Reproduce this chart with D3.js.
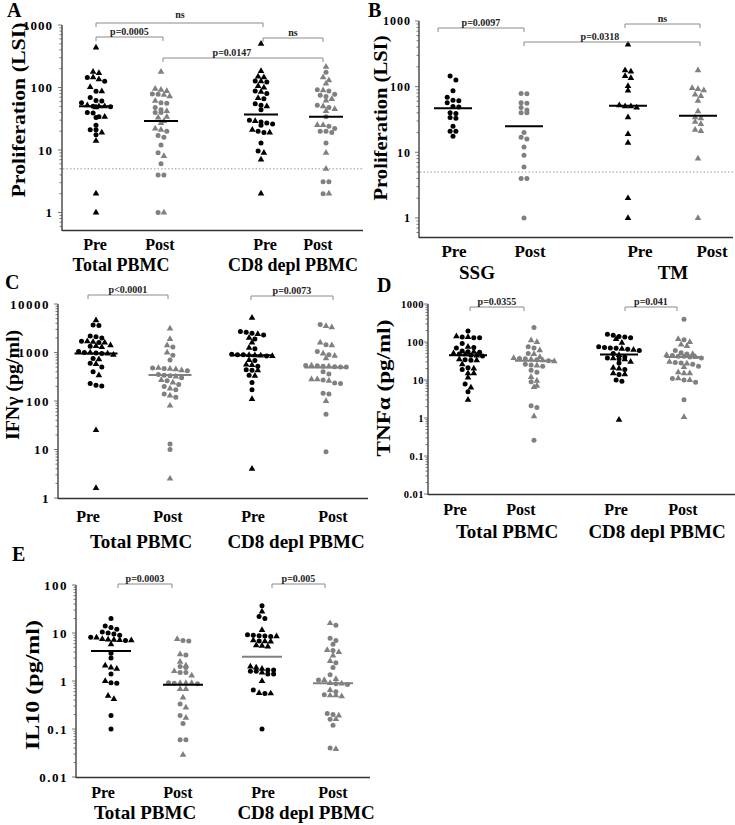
<!DOCTYPE html>
<html>
<head>
<meta charset="utf-8">
<script src="https://cdn.jsdelivr.net/npm/d3@7.9.0/dist/d3.min.js"></script>
<style>
  body { margin: 0; background: #fff; }
  svg { display: block; }
  text { font-family: "Liberation Serif", "Times New Roman", serif; font-weight: bold; }
</style>
</head>
<body>
<script>
// ---- labels ----
const timepoints = ['Pre', 'Post', 'Pre', 'Post'];
const cellGroups = ['Total PBMC', 'CD8 depl PBMC'];
const treatGroups = ['SSG', 'TM'];

// ---- proliferation (LSI), total PBMC : circles = SSG, triangles = TM ----
const lsiSsgPre  = [145, 126, 87, 69, 62, 61, 57, 50, 49, 40, 39, 34, 33, 25, 21, 21, 17.5];
const lsiSsgPost = [79, 78, 57, 56, 48, 44, 40, 40, 20, 17, 16, 12, 9, 6, 4, 4, 1];
const lsiTmPre   = [437, 178, 170, 145, 135, 102, 87, 52, 50, 50, 48, 34, 19, 14, 2, 1];
const lsiTmPost  = [178, 95, 92, 88, 76, 72, 61, 42, 34, 33, 29, 27, 22, 21, 8, 1];
// ---- proliferation (LSI), CD8 depleted PBMC ----
const lsiCd8PreC  = [127, 122, 88, 80, 66, 55, 52, 44, 30, 28, 27, 26, 25, 20, 19, 13, 9.6];
const lsiCd8PreT  = [500, 183, 150, 145, 125, 105, 100, 85, 68, 50, 29, 21, 19, 9, 7, 2];
const lsiCd8PostC = [175, 92, 88, 78, 75, 72, 52, 48, 34, 24, 22, 20, 20, 19, 13, 3.1, 3.1, 2];
const lsiCd8PostT = [215, 145, 130, 115, 90, 65, 62, 50, 45, 42, 25, 25, 9, 5, 2];

// ---- IFNg (pg/ml) ----
const ifnTotPreC  = [3700, 3600, 2200, 2100, 2000, 1700, 1600, 1350, 1050, 1000, 980, 950, 750, 600, 500, 400, 230, 210, 205];
const ifnTotPreT  = [4600, 1700, 1650, 1600, 1400, 1350, 1300, 1000, 950, 900, 720, 580, 340, 25, 1.6];
const ifnTotPostC = [1300, 880, 700, 480, 470, 420, 350, 340, 330, 300, 260, 220, 200, 170, 140, 120, 13, 10];
const ifnTotPostT = [3100, 1900, 1400, 1000, 480, 460, 450, 430, 320, 270, 240, 180, 130, 80, 2.5];
const ifnCd8PreC  = [2700, 2600, 2500, 2300, 1900, 1200, 920, 900, 900, 850, 680, 520, 440, 430, 340, 240, 170];
const ifnCd8PreT  = [5200, 2400, 2000, 1600, 1250, 880, 870, 860, 840, 700, 560, 550, 430, 330, 110, 4];
const ifnCd8PostC = [3800, 1450, 1050, 900, 540, 530, 520, 510, 500, 500, 400, 360, 270, 235, 230, 145, 140, 53, 9];
const ifnCd8PostT = [3500, 3300, 1600, 1400, 950, 850, 760, 540, 520, 280, 280, 260, 100];

// ---- TNFa (pg/ml) ----
const tnfTotPreC  = [195, 135, 130, 130, 92, 72, 70, 58, 55, 54, 48, 45, 43, 34, 33, 21, 19, 7.9, 4.9];
const tnfTotPreT  = [140, 135, 75, 55, 50, 47, 44, 35, 33, 26, 20, 15, 15, 11.5, 6.3, 3];
const tnfTotPostC = [240, 75, 70, 50, 37, 36, 34, 32, 26, 25, 23, 18, 16, 9, 2.1, 1.9, 0.26];
const tnfTotPostT = [110, 100, 60, 48, 40, 38, 35, 33, 31, 24, 12, 9.5, 7, 6.5, 1.1];
const tnfCd8PreC  = [160, 150, 140, 135, 130, 75, 72, 70, 68, 64, 60, 50, 40, 38, 36, 28, 19, 14, 10, 9.3];
const tnfCd8PreT  = [120, 95, 66, 62, 45, 37, 35, 30, 21, 20, 15, 14, 0.9];
const tnfCd8PostC = [395, 115, 60, 52, 48, 44, 42, 42, 40, 38, 29, 28, 26, 23, 11, 10, 8.7, 3];
const tnfCd8PostT = [120, 100, 85, 78, 48, 45, 40, 30, 27, 22, 16, 15, 15, 11, 10, 1.05];

// ---- IL10 (pg/ml) ----
const il10TotPreC  = [20, 14, 13, 12, 10.5, 10, 9.5, 9, 8.2, 7, 3.8, 3, 1.4, 0.92, 0.9, 0.19, 0.1];
const il10TotPreT  = [8, 7.5, 7.3, 7.2, 7.1, 7, 5.8, 2.1, 1.9, 1.8, 1.0, 0.49, 0.42];
const il10TotPostC = [7, 6.8, 3.5, 2, 1.9, 1.5, 1.5, 0.92, 0.9, 0.88, 0.33, 0.19, 0.13, 0.06, 0.06];
const il10TotPostT = [7.5, 3.6, 2.5, 2.1, 1.6, 1.3, 0.9, 0.9, 0.9, 0.68, 0.68, 0.45, 0.28, 0.17, 0.029];
const il10Cd8PreC  = [37, 22, 20, 9.2, 9, 8.8, 8.7, 8.5, 6.8, 1.7, 1.7, 1.6, 1.6, 1.4, 1.4, 0.65, 0.55, 0.1];
const il10Cd8PreT  = [28, 11.5, 8.5, 7, 6.7, 6.6, 5.5, 5.4, 5.2, 2.0, 1.9, 1.8, 1.5, 1.0, 0.56, 0.55];
const il10Cd8PostC = [14.5, 7.8, 7, 5.8, 4.3, 2.4, 1.9, 1.35, 1.05, 0.88, 0.85, 0.6, 0.52, 0.21, 0.2, 0.16, 0.12, 0.04];
const il10Cd8PostT = [16, 4.4, 4, 3.4, 2.6, 1.1, 1.05, 0.9, 0.88, 0.65, 0.5, 0.48, 0.5, 0.19, 0.16, 0.038];

// ---- medians (horizontal bars) ----
const medA = [50, 29, 37, 34];
const medB = [47, 25, 51, 36];
const medC = [950, 345, 880, 490];
const medD = [45, 32, 47, 40];
const medE = [4.2, 0.84, 3.2, 0.9];

// ---- p values ----
const pA = ['ns', 'p=0.0005', 'ns', 'p=0.0147'];
const pB = ['p=0.0097', 'ns', 'p=0.0318'];
const pC = ['p<0.0001', 'p=0.0073'];
const pD = ['p=0.0355', 'p=0.041'];
const pE = ['p=0.0003', 'p=0.005'];

const BLACK = '#000', GREY = '#808080';

const svg = d3.select('body').append('svg')
  .attr('width', 735).attr('height', 825);

const panels = [
  {
    letter: 'A', lx: 7, ly: 17,
    yLabel: 'Proliferation (LSI)', ylx: 19, yly: 110, ylLen: 175,
    domain: [0.525, 1000], range: [230, 25], axisX: 62, xEnd: 363,
    tickFont: 13, tickLs: 1, tickGap: 9,
    groups: [[lsiSsgPre, lsiTmPre], [lsiSsgPost, lsiTmPost], [lsiCd8PreC, lsiCd8PreT], [lsiCd8PostC, lsiCd8PostT]],
    medians: medA, medColors: [BLACK, BLACK, BLACK, BLACK], medW: 34,
    px: [96, 161, 261, 326], bx: [96, 163, 263, 323],
    labelX: [95, 160, 265, 318], labelY: 250, catFont: 16,
    groupNames: cellGroups, groupX: [121, 293], groupY: 271, groupFont: 18,
    cutoff: 5,
    brackets: [
      { a: 0, b: 2, y: 23, label: pA[0], tx: 180, ty: 18 },
      { a: 0, b: 1, y: 37, label: pA[1] },
      { a: 2, b: 3, y: 38, label: pA[2] },
      { a: 1, b: 3, y: 58, label: pA[3], tx: 232 }
    ]
  },
  {
    letter: 'B', lx: 368, ly: 17,
    yLabel: 'Proliferation (LSI)', ylx: 381, yly: 118, ylLen: 165,
    domain: [0.513, 1000], range: [237, 21], axisX: 419, xEnd: 733,
    tickFont: 12, tickLs: 1, tickGap: 8,
    groups: [[lsiSsgPre, []], [lsiSsgPost, []], [[], lsiTmPre], [[], lsiTmPost]],
    medians: medB, medColors: [BLACK, BLACK, BLACK, BLACK], medW: 38,
    px: [453, 524, 628, 698], bx: [438, 524, 625, 700],
    labelX: [454, 530, 640, 712], labelY: 257, catFont: 17,
    groupNames: treatGroups, groupX: [477, 673], groupY: 279, groupFont: 19,
    cutoff: 5,
    brackets: [
      { a: 0, b: 1, y: 28, label: pB[0] },
      { a: 2, b: 3, y: 24, label: pB[1] },
      { a: 1, b: 3, y: 42, label: pB[2], tx: 600 }
    ]
  },
  {
    letter: 'C', lx: 5, ly: 289,
    yLabel: 'IFNγ (pg/ml)', ylx: 13, yly: 385, ylLen: 110,
    domain: [1, 10000], range: [498, 304], axisX: 58, xEnd: 368,
    tickFont: 13, tickLs: 1.5, tickGap: 8,
    groups: [[ifnTotPreC, ifnTotPreT], [ifnTotPostC, ifnTotPostT], [ifnCd8PreC, ifnCd8PreT], [ifnCd8PostC, ifnCd8PostT]],
    medians: medC, medColors: [BLACK, GREY, BLACK, GREY], medW: 43,
    px: [96, 170, 252, 326], bx: [88, 168, 251, 333],
    labelX: [88, 168, 253, 333], labelY: 522, catFont: 16,
    groupNames: cellGroups, groupX: [141, 296], groupY: 548, groupFont: 19,
    brackets: [
      { a: 0, b: 1, y: 295, label: pC[0] },
      { a: 2, b: 3, y: 296, label: pC[1] }
    ]
  },
  {
    letter: 'D', lx: 377, ly: 292,
    yLabel: 'TNFα (pg/ml)', ylx: 384, yly: 388, ylLen: 137,
    domain: [0.01, 1000], range: [494, 304], axisX: 428, xEnd: 735,
    tickFont: 10.5, tickLs: 0.5, tickGap: 4,
    groups: [[tnfTotPreC, tnfTotPreT], [tnfTotPostC, tnfTotPostT], [tnfCd8PreC, tnfCd8PreT], [tnfCd8PostC, tnfCd8PostT]],
    medians: medD, medColors: [BLACK, GREY, BLACK, GREY], medW: 38,
    px: [468, 534, 619, 684], bx: [470, 524, 625, 677],
    labelX: [455, 521, 616, 683], labelY: 515, catFont: 16,
    groupNames: cellGroups, groupX: [507, 657], groupY: 538, groupFont: 19,
    brackets: [
      { a: 0, b: 1, y: 307, label: pD[0] },
      { a: 2, b: 3, y: 307, label: pD[1] }
    ]
  },
  {
    letter: 'E', lx: 12, ly: 561,
    yLabel: 'IL10 (pg/ml)', ylx: 33, yly: 685, ylLen: 130,
    domain: [0.01, 100], range: [777, 585], axisX: 76, xEnd: 370,
    tickFont: 13, tickLs: 1.5, tickGap: 8,
    groups: [[il10TotPreC, il10TotPreT], [il10TotPostC, il10TotPostT], [il10Cd8PreC, il10Cd8PreT], [il10Cd8PostC, il10Cd8PostT]],
    medians: medE, medColors: [BLACK, BLACK, GREY, GREY], medW: 40,
    px: [111, 183, 262, 333], bx: [118, 172, 272, 325],
    labelX: [103, 178, 263, 333], labelY: 798, catFont: 16,
    groupNames: cellGroups, groupX: [145, 306], groupY: 819, groupFont: 19,
    brackets: [
      { a: 0, b: 1, y: 584, label: pE[0] },
      { a: 2, b: 3, y: 584, label: pE[1] }
    ]
  }
];

const triangle = d3.symbol().type(d3.symbolTriangle).size(19);

// lay out a group as a dot plot: close values share a row, spread horizontally
function layoutGroup(circles, triangles, y, cx, dx) {
  const pts = [
    ...circles.map(v => ({ v, shape: 'c' })),
    ...triangles.map(v => ({ v, shape: 't' }))
  ];
  pts.sort((a, b) => b.v - a.v);
  pts.forEach(p => { p.y = y(p.v); });
  const rows = [];
  let row = null;
  for (const p of pts) {
    if (!row || p.y - row.y0 > 4.5) { row = { y0: p.y, items: [] }; rows.push(row); }
    row.items.push(p);
  }
  for (const r of rows) {
    const n = r.items.length;
    r.items.forEach((p, i) => { p.x = cx + (i - (n - 1) / 2) * dx; });
  }
  return pts;
}

function drawPanel(P) {
  const g = svg.append('g');
  const y = d3.scaleLog().domain(P.domain).range(P.range);
  const x = d3.scaleOrdinal().domain(d3.range(4)).range(P.px);
  const bx = d3.scaleOrdinal().domain(d3.range(4)).range(P.bx);
  const top = P.range[1], bottom = P.range[0];

  // panel letter
  g.append('text').attr('x', P.lx).attr('y', P.ly)
    .attr('font-size', 20).text(P.letter);

  // y label (stretched like the original figure)
  g.append('text')
    .attr('transform', `translate(${P.ylx},${P.yly}) rotate(-90)`)
    .attr('text-anchor', 'middle').attr('dy', '0.35em')
    .attr('font-size', 18)
    .attr('textLength', P.ylLen).attr('lengthAdjust', 'spacingAndGlyphs')
    .text(P.yLabel);

  // y axis with log minor ticks
  const ticks = y.ticks().filter(t => t >= P.domain[0] - 1e-9 && t <= P.domain[1] * 1.0001);
  const isMajor = t => Math.abs(Math.log10(t) - Math.round(Math.log10(t))) < 1e-6;
  const axis = g.append('g');
  axis.append('line')
    .attr('x1', P.axisX).attr('x2', P.axisX)
    .attr('y1', top).attr('y2', bottom + 1)
    .attr('stroke', '#333').attr('stroke-width', 1.3);
  axis.selectAll('line.tk').data(ticks).join('line')
    .attr('class', 'tk')
    .attr('x1', d => P.axisX - (isMajor(d) ? 4 : 2.5)).attr('x2', P.axisX)
    .attr('y1', d => y(d)).attr('y2', d => y(d))
    .attr('stroke', '#555').attr('stroke-width', 0.8);
  axis.selectAll('text').data(ticks.filter(isMajor)).join('text')
    .attr('x', P.axisX - P.tickGap).attr('y', d => y(d))
    .attr('dy', '0.35em').attr('text-anchor', 'end')
    .attr('font-size', P.tickFont).attr('letter-spacing', P.tickLs)
    .text(d => String(+d.toPrecision(3)));

  // x axis line
  g.append('line')
    .attr('x1', P.axisX).attr('x2', P.xEnd)
    .attr('y1', bottom + 0.5).attr('y2', bottom + 0.5)
    .attr('stroke', '#333').attr('stroke-width', 1.5);

  // cutoff line
  if (P.cutoff) {
    g.append('line')
      .attr('x1', P.axisX + 1).attr('x2', P.xEnd)
      .attr('y1', y(P.cutoff)).attr('y2', y(P.cutoff))
      .attr('stroke', '#999').attr('stroke-width', 1)
      .attr('stroke-dasharray', '1.5,2');
  }

  // points
  P.groups.forEach(([circ, tri], i) => {
    const color = i % 2 === 0 ? BLACK : GREY;
    const pts = layoutGroup(circ, tri, y, x(i), 5.8);
    const gg = g.append('g').attr('fill', color);
    gg.selectAll('circle').data(pts.filter(p => p.shape === 'c')).join('circle')
      .attr('cx', d => d.x).attr('cy', d => d.y).attr('r', 2.5);
    gg.selectAll('path').data(pts.filter(p => p.shape === 't')).join('path')
      .attr('d', triangle)
      .attr('transform', d => `translate(${d.x},${d.y})`);
  });

  // medians
  g.selectAll('line.med').data(P.medians).join('line')
    .attr('class', 'med')
    .attr('x1', (d, i) => x(i) - P.medW / 2).attr('x2', (d, i) => x(i) + P.medW / 2)
    .attr('y1', d => y(d)).attr('y2', d => y(d))
    .attr('stroke', (d, i) => P.medColors[i]).attr('stroke-width', 2);

  // significance brackets
  const br = g.append('g');
  P.brackets.forEach(b => {
    const x1 = bx(b.a), x2 = bx(b.b);
    br.append('path')
      .attr('d', `M${x1},${b.y + 4}V${b.y}H${x2}V${b.y + 4}`)
      .attr('fill', 'none').attr('stroke', '#8a8a8a').attr('stroke-width', 1);
    br.append('text')
      .attr('x', b.tx ?? (x1 + x2) / 2).attr('y', b.ty ?? b.y - 2.5)
      .attr('text-anchor', 'middle').attr('font-size', 10).attr('fill', '#222')
      .text(b.label);
  });

  // category labels
  g.selectAll('text.cat').data(timepoints).join('text')
    .attr('class', 'cat')
    .attr('x', (d, i) => P.labelX[i]).attr('y', P.labelY)
    .attr('text-anchor', 'middle').attr('font-size', P.catFont)
    .text(d => d);
  g.selectAll('text.grp').data(P.groupNames).join('text')
    .attr('class', 'grp')
    .attr('x', (d, i) => P.groupX[i]).attr('y', P.groupY)
    .attr('text-anchor', 'middle').attr('font-size', P.groupFont)
    .text(d => d);
}

panels.forEach(drawPanel);
</script>
</body>
</html>
